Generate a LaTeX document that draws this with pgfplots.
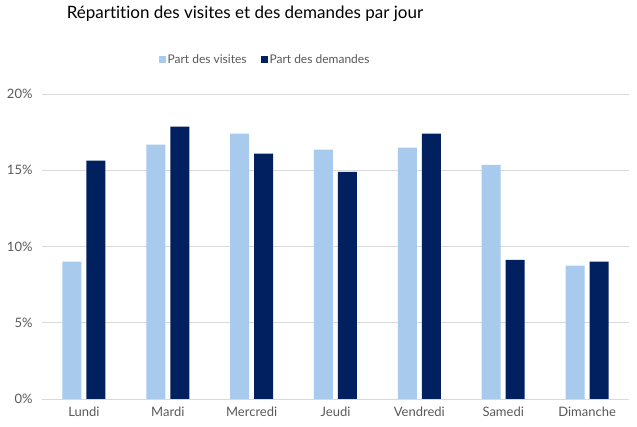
\documentclass[border=0pt]{standalone}
\usepackage{pgfplots}
\pgfplotsset{compat=1.18}
\usepackage{fontspec}
\setmainfont[Ligatures=NoCommon]{Lato}
\definecolor{visites}{HTML}{A8CAEC}
\definecolor{demandes}{HTML}{002060}
\definecolor{grille}{HTML}{D9D9D9}
\definecolor{texte}{HTML}{595959}
\begin{document}
\begin{tikzpicture}
\useasboundingbox (-42pt,-28pt) rectangle (595pt,399pt);
\begin{axis}[
    scale only axis,
    width=587pt, height=305pt,
    at={(0,0)}, anchor=south west,
    ybar=5pt, bar width=19pt,
    xmin=-0.5, xmax=6.5,
    ymin=0, ymax=20,
    xtick=data,
    xticklabels={Lundi,Mardi,Mercredi,Jeudi,Vendredi,Samedi,Dimanche},
    ytick={0,5,10,15,20},
    yticklabels={0\%,5\%,10\%,15\%,20\%},
    major tick length=0pt,
    ymajorgrids, grid style={grille, line width=0.8pt},
    axis x line*=bottom, axis y line*=left,
    x axis line style={grille, line width=0.8pt, -},
    y axis line style={draw=none},
    tick label style={font=\fontsize{13}{15}\selectfont, text=texte},
    yticklabel style={xshift=-6pt},
    xticklabel style={yshift=-4pt},
    legend style={at={(223pt,339pt)}, anchor=center, draw=none,
        font=\fontsize{12}{14}\selectfont, text=texte,
        /tikz/every even column/.append style={column sep=12pt}},
    legend columns=2,
    legend image code/.code={\fill[#1] (0pt,-3.5pt) rectangle (7pt,3.5pt);},
]
\addplot[fill=visites, draw=none] coordinates {(0,9.0) (1,16.68) (2,17.40) (3,16.35) (4,16.48) (5,15.36) (6,8.74)};
\addplot[fill=demandes, draw=none] coordinates {(0,15.63) (1,17.86) (2,16.09) (3,14.90) (4,17.40) (5,9.13) (6,9.0)};
\legend{Part des visites, Part des demandes}
\end{axis}
\node[anchor=base, font=\fontsize{17}{20}\selectfont] at (203pt,380pt) {Répartition des visites et des demandes par jour};
\end{tikzpicture}
\end{document}
